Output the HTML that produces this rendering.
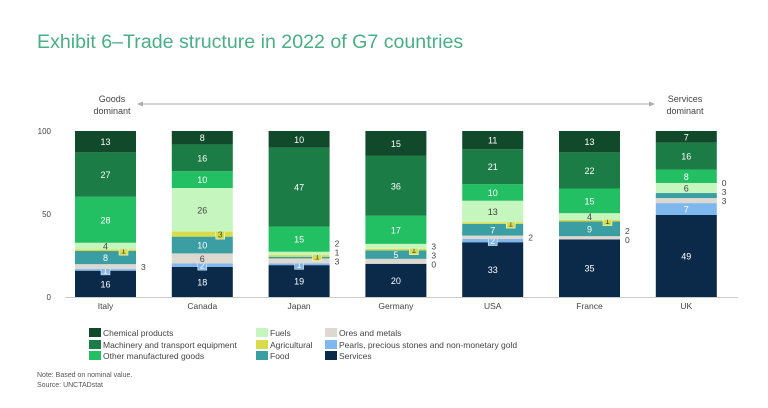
<!DOCTYPE html>
<html><head><meta charset="utf-8"><style>
body{margin:0;background:#fff;width:768px;height:403px;overflow:hidden;font-family:"Liberation Sans",sans-serif}
</style></head><body>
<svg id="chart" width="768" height="403" xmlns="http://www.w3.org/2000/svg" font-family="Liberation Sans, sans-serif">
<text x="37" y="48" font-size="19.6" fill="#4aae86">Exhibit 6–Trade structure in 2022 of G7 countries</text>
<g>
<text x="112" y="102" font-size="9" fill="#444" text-anchor="middle">Goods</text>
<text x="112" y="114" font-size="9" fill="#444" text-anchor="middle">dominant</text>
<text x="685" y="102" font-size="9" fill="#444" text-anchor="middle">Services</text>
<text x="685" y="114" font-size="9" fill="#444" text-anchor="middle">dominant</text>
<line x1="140" y1="104" x2="652" y2="104" stroke="#aaa" stroke-width="1"/>
<path d="M137 104 L143 101.5 L143 106.5 Z" fill="#aaa"/>
<path d="M655 104 L649 101.5 L649 106.5 Z" fill="#aaa"/>
</g>
<g id="axes"></g>
<g id="bars"></g>
<g id="legend"></g>
<text x="37" y="377" font-size="7" fill="#555">Note: Based on nominal value.</text>
<text x="37" y="387" font-size="7" fill="#555">Source: UNCTADstat</text>
</svg>
<script>
const countries=["Italy","Canada","Japan","Germany","USA","France","UK"];
const seriesNames=["Services","Pearls, precious stones and non-monetary gold","Ores and metals","Food","Agricultural","Fuels","Other manufactured goods","Machinery and transport equipment","Chemical products"];
const services=[16,18,19,20,33,35,49];
const pearls=[1,2,1,0,2,0,7];
const ores=[3,6,3,3,2,2,3];
const food=[8,10,1,5,7,9,3];
const agricultural=[1,3,1,1,1,1,0];
const fuels=[4,26,2,3,13,4,6];
const otherManuf=[28,10,15,17,10,15,8];
const machinery=[27,16,47,36,21,22,16];
const chemical=[13,8,10,15,11,13,7];
const yTicks=[0,50,100];
const series=[services,pearls,ores,food,agricultural,fuels,otherManuf,machinery,chemical];
const colors=["#0b2a4a","#7fb7ef","#ddd8d0","#3a9ea3","#d8dc48","#c4f6bd","#22bf63","#1b7c46","#114a2a"];
const txtCol=["#fff","#fff","#444","#fff","#444","#444","#fff","#fff","#fff"];
const NS="http://www.w3.org/2000/svg";
const y0=297,y1=131,xL=65,xR=738;
const yScale=v=>y0-(y0-y1)*v/100;
const xScale=i=>75+96.8*i;
function mk(tag,attrs,parent){const e=document.createElementNS(NS,tag);for(const k in attrs)e.setAttribute(k,attrs[k]);parent.appendChild(e);return e;}
const axes=document.getElementById('axes');
const ax=mk('line',{x1:xL,x2:xR,y1:y0+0.5,y2:y0+0.5,stroke:'#ccc'},axes);


yTicks.forEach(t=>{const e=mk('text',{x:51,y:yScale(t)+3,'font-size':8,fill:'#444','text-anchor':'end'},axes);e.textContent=t;

});
const bars=document.getElementById('bars');
countries.forEach((c,i)=>{
  const g=mk('g',{},bars);
  
  
  let tot=0;series.forEach(s=>tot+=s[i]);
  let cum=0;const x=xScale(i);
  let lastOut=999;
  series.forEach((s,k)=>{
    const v=s[i];const ya=yScale(cum*100/tot),yb=yScale((cum+v)*100/tot);cum+=v;
    if(v>0){const r=mk('rect',{x:x,y:yb,width:61,height:ya-yb,fill:colors[k]},g);
      
      }
    const ym=(ya+yb)/2;
    if(v>=4){const t=mk('text',{x:x+30.5,y:ym+3.5,'font-size':9,fill:txtCol[k],'text-anchor':'middle'},g);t.textContent=v;
      
      }
    else if(v===0||(k!==1&&k!==4)){let ly=ym+3.5;if(ly>lastOut-9)ly=lastOut-9;lastOut=ly;
      const t=mk('text',{x:x+66,y:ly,'font-size':8.5,fill:'#444'},g);t.textContent=v;
      
      }
    else{const bx=k===4?x+44:x+26;mk('rect',{x:bx,y:ym-5,width:9,height:10,fill:colors[k],stroke:'#fff','stroke-width':0.5},g);
      const t=mk('text',{x:bx+4.5,y:ym+3.5,'font-size':8.5,fill:txtCol[k],'text-anchor':'middle'},g);t.textContent=v;
      
      }
  });
  const lb=mk('text',{x:x+30.5,y:309,'font-size':8.5,fill:'#444','text-anchor':'middle'},g);lb.textContent=c;
  
  
});
const legend=document.getElementById('legend');
const legOrder=[[8,89,328],[7,89,340],[6,89,351],[5,256,328],[4,256,340],[3,256,351],[2,325,328],[1,325,340],[0,325,351]];
legOrder.forEach(([k,x,y])=>{
  const g=mk('g',{},legend);
  
  
  mk('rect',{x:x,y:y,width:12,height:9,fill:colors[k]},g);
  const t=mk('text',{x:x+14,y:y+8,'font-size':8.5,fill:'#444'},g);t.textContent=seriesNames[k];
});
</script>
</body></html>
